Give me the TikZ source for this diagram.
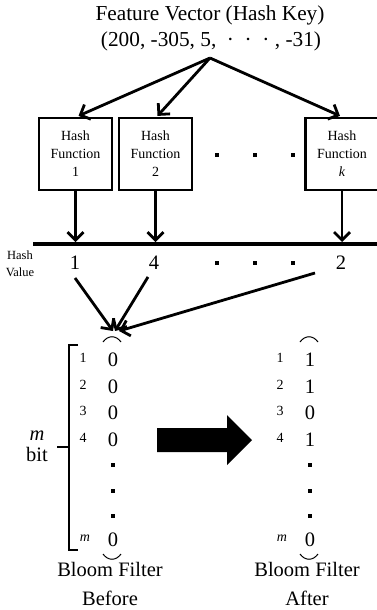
\documentclass[tikz,border=0pt]{standalone}
\usepackage{fontspec}
\setmainfont{Liberation Serif}
\usetikzlibrary{arrows.meta,positioning}

\begin{document}
\begin{tikzpicture}[x=1pt,y=-1pt,
    big/.style={font=\fontsize{20.5}{26}\selectfont, inner sep=0pt},
    idx/.style={font=\fontsize{14}{16}\selectfont, inner sep=0pt},
    hashbox/.style={draw, line width=2.2pt, minimum width=73pt, minimum height=72pt,
      align=center, inner sep=0pt, font=\fontsize{14}{18}\selectfont},
    sqdot/.style={fill, minimum size=3.8pt, inner sep=0pt},
    arr/.style={line width=2.8pt, -{Straight Barb[length=8pt,width=16pt]}},
    brace/.style={line width=1pt}]
  \useasboundingbox (0,0) rectangle (377,610);
  \node[big, font=\fontsize{21.3}{26}\selectfont] (title) at (210,15) {Feature Vector (Hash Key)};
  \node[big, font=\fontsize{21.3}{26}\selectfont] (key) at (211,41) {(200,~-305,~5,~~\textperiodcentered~~\textperiodcentered~~\textperiodcentered~,~-31)};
  \coordinate (src) at (210,58);
  \node[hashbox] (h1) at (75.5,154) {Hash\\Function\\1};
  \node[hashbox] (h2) at (155.5,154) {Hash\\Function\\2};
  \node[hashbox] (hk) at (342,154) {Hash\\Function\\\textit{k}};
  \foreach \x in {217,255,293} {
    \node[sqdot] at (\x,155) {};
    \node[sqdot] at (\x,263) {};
  }
  \draw[arr] (src) -- ([xshift=3pt,yshift=1pt]h1.north);
  \draw[arr] (src) -- ([xshift=2pt,yshift=1pt]h2.north);
  \draw[arr] (src) -- ([xshift=-2pt,yshift=1pt]hk.north);
  \coordinate (barL) at (33,244);
  \coordinate (barR) at (377,244);
  \draw[line width=4.2pt] (barL) -- (barR);
  \draw[arr] (h1.south) -- ([yshift=2pt]h1.south |- barL);
  \draw[arr] (h2.south) -- ([yshift=2pt]h2.south |- barL);
  \draw[arr] (hk.south) -- ([yshift=2pt]hk.south |- barL);
  \node[align=center, inner sep=0pt, font=\fontsize{12.5}{17}\selectfont] (hv) at (20,264) {Hash\\Value};
  \node[big] (v1) at (75,263) {1};
  \node[big] (v2) at (154,263) {4};
  \node[big] (vk) at (341,263) {2};
  \coordinate (top) at (115,331);
  \draw[arr] ([yshift=-8pt]v1.south) -- ([xshift=-2pt]top);
  \draw[arr] ([xshift=-6pt,yshift=-7pt]v2.south) -- (top);
  \draw[arr] ([xshift=-26pt,yshift=-3pt]vk.south) -- ([xshift=4pt]top);
  % before
  \foreach \v/\y [count=\i] in {0/360,0/387,0/413,0/440} {
    \node[idx] (bi\i) at (83,\y-2) {\i};
    \node[big] (b\i) at (113,\y) {\v};
  }
  \foreach \v/\y [count=\i] in {1/360,1/387,0/413,1/440} {
    \node[idx] (ai\i) at (280,\y-2) {\i};
    \node[big] (a\i) at (310,\y) {\v};
  }
  \foreach \y in {465,491,516} {
    \node[sqdot] at (113,\y) {};
    \node[sqdot] at (310,\y) {};
  }
  \node[idx, font=\fontsize{14}{16}\selectfont\itshape] (bim) at (85,538) {m};
  \node[big] (bm) at (113,540) {0};
  \node[idx, font=\fontsize{14}{16}\selectfont\itshape] (aim) at (282,538) {m};
  \node[big] (am) at (310,540) {0};
  \draw[brace] (103,342) .. controls (108,335) and (116,335) .. (121,342);
  \draw[brace] (103,554) .. controls (108,561) and (116,561) .. (121,554);
  \draw[brace] (300,342) .. controls (305,335) and (313,335) .. (318,342);
  \draw[brace] (300,554) .. controls (305,561) and (313,561) .. (318,554);
  \draw[line width=2.6pt] (78,345) -- (69,345) -- (69,550) -- (78,550);
  \draw[line width=2.6pt] (57,447) -- (69,447);
  \node[big, align=center, font=\fontsize{20.5}{21}\selectfont] (mbit) at (37,446) {\textit{m}\\bit};
  \fill (157,428) -- (227,428) -- (227,415) -- (252,440) -- (227,465) -- (227,452) -- (157,452) -- cycle;
  \node[big] (bf1) at (110,569) {Bloom Filter};
  \node[big] (bf1b) at (110,598) {Before};
  \node[big] (bf2) at (307,569) {Bloom Filter};
  \node[big] (bf2b) at (307,598) {After};
\end{tikzpicture}
\end{document}
